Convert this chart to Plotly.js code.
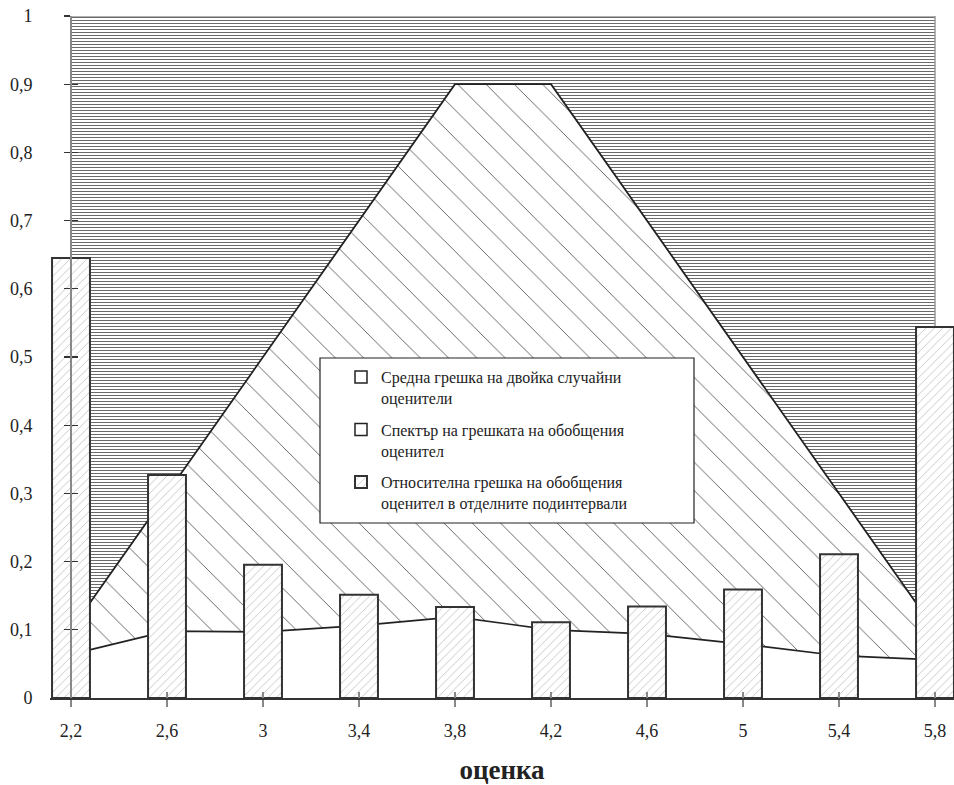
<!DOCTYPE html>
<html>
<head>
<meta charset="utf-8">
<script src="https://cdn.plot.ly/plotly-3.0.1.min.js"></script>
<style>html,body{margin:0;padding:0;background:#fff;}#chart{width:954px;height:785px;}</style>
</head>
<body>
<div id="chart"></div>
<script>
// ---- data ----
const categories = [2.2, 2.6, 3.0, 3.4, 3.8, 4.2, 4.6, 5.0, 5.4, 5.8];
const categoryLabels = ['2,2', '2,6', '3', '3,4', '3,8', '4,2', '4,6', '5', '5,4', '5,8'];
const meanErrorPair = [0.064, 0.098, 0.097, 0.106, 0.119, 0.100, 0.094, 0.079, 0.062, 0.056];
const errorSpectrum = [0.1, 0.3, 0.5, 0.7, 0.9, 0.9, 0.7, 0.5, 0.3, 0.1];
const relativeError = [0.645, 0.327, 0.1955, 0.1515, 0.1334, 0.111, 0.134, 0.159, 0.2107, 0.544];
const yTickVals = [0, 0.1, 0.2, 0.3, 0.4, 0.5, 0.6, 0.7, 0.8, 0.9, 1];
const yTickText = ['0', '0,1', '0,2', '0,3', '0,4', '0,5', '0,6', '0,7', '0,8', '0,9', '1'];
const seriesNames = [
  'Средна грешка на двойка случайни<br>оценители',
  'Спектър на грешката на обобщения<br>оценител',
  'Относителна грешка на обобщения<br>оценител в отделните подинтервали'
];
const xTitle = 'оценка';
// plot-area background (category span x full value range)
const bgX = [categories[0], categories[0], categories[categories.length - 1], categories[categories.length - 1]];
const bgY = [0, 1, 1, 0];

const serif = '"Liberation Serif", "Times New Roman", Times, serif';

const traces = [
  // legend proxies (draw nothing)
  {type: 'bar', x: [null], y: [null], name: seriesNames[0], legendgroup: 'a',
   marker: {color: 'white', line: {color: '#222', width: 1.5}}, hoverinfo: 'skip'},
  {type: 'bar', x: [null], y: [null], name: seriesNames[1], legendgroup: 'b',
   marker: {color: 'white', line: {color: '#222', width: 1.5}}, hoverinfo: 'skip'},
  // hatched plot-area background
  {type: 'scatter', mode: 'lines', x: bgX, y: bgY, fill: 'toself',
   fillcolor: 'white',
   fillpattern: {shape: '-', size: 3, solidity: 0.34, fgcolor: '#6a6a6a', bgcolor: 'white'},
   line: {color: '#999', width: 1.5}, showlegend: false, hoverinfo: 'skip'},
  // spectrum of error (trapezoid)
  {type: 'scatter', mode: 'lines', x: categories, y: errorSpectrum, fill: 'tozeroy',
   fillcolor: 'white',
   fillpattern: {shape: '\\', size: 20, solidity: 0.04, fgcolor: '#444', bgcolor: 'white'},
   line: {color: '#222', width: 1.8}, showlegend: false, hoverinfo: 'skip'},
  // mean error of a pair of random estimators
  {type: 'scatter', mode: 'lines', x: categories, y: meanErrorPair, fill: 'tozeroy',
   fillcolor: 'white', line: {color: '#222', width: 1.7}, showlegend: false, hoverinfo: 'skip'},
  // relative error bars (on the overlay axes so they sit above the filled areas)
  {type: 'bar', x: categories, y: relativeError, width: 0.158, name: seriesNames[2], legendgroup: 'c',
   xaxis: 'x2', yaxis: 'y2',
   marker: {color: 'white', line: {color: '#333', width: 2},
            pattern: {shape: '/', size: 6, solidity: 0.15, fgcolor: '#c4c4c4', bgcolor: 'white'}},
   hoverinfo: 'skip'}
];

const L = 50, R = 0, T = 16, B = 87, W = 954, H = 785;
const pw = W - L - R, ph = H - T - B;
const pxPerUnit = 240;
const xMin = categories[0] - (71 - L) / pxPerUnit;
const xMax = xMin + pw / pxPerUnit;
const yAxisPos = (71 - L) / pw;
const px = v => (v - L) / pw;
const py = v => (H - B - v) / ph;

const layout = {
  width: W, height: H,
  margin: {l: L, r: R, t: T, b: B, pad: 0},
  paper_bgcolor: 'white', plot_bgcolor: 'rgba(0,0,0,0)',
  barmode: 'overlay',
  showlegend: true,
  font: {family: serif, color: '#222', size: 16},
  xaxis: {
    range: [xMin, xMax], showgrid: false, zeroline: false,
    showline: true, linecolor: '#333', linewidth: 2,
    tickmode: 'array', tickvals: categories, ticktext: categoryLabels,
    ticks: 'outside', ticklen: 7, tickwidth: 2, tickcolor: '#888',
    tickfont: {family: serif, size: 18, color: '#222'},
    ticklabelstandoff: 8,
    title: {text: '<b>' + xTitle + '</b>', font: {family: serif, size: 27, color: '#222'}, standoff: 30},
    fixedrange: true
  },
  xaxis2: {
    overlaying: 'x', anchor: 'y2', side: 'bottom',
    range: [xMin, xMax], showgrid: false, zeroline: false, showline: false,
    tickmode: 'array', tickvals: categories, showticklabels: false,
    ticks: 'inside', ticklen: 6, tickwidth: 2, tickcolor: '#888', fixedrange: true
  },
  yaxis: {
    range: [0, 1], anchor: 'free', position: yAxisPos, side: 'left',
    showgrid: false, zeroline: false,
    showline: true, linecolor: '#888', linewidth: 2,
    tickmode: 'array', tickvals: yTickVals, ticktext: yTickText,
    ticks: 'outside', ticklen: 6, tickwidth: 1.2, tickcolor: '#333',
    tickfont: {family: serif, size: 18, color: '#222'},
    ticklabelstandoff: 28,
    fixedrange: true
  },
  yaxis2: {
    overlaying: 'y', anchor: 'free', position: yAxisPos, side: 'left',
    range: [0, 1], showgrid: false, zeroline: false,
    showline: true, linecolor: '#888', linewidth: 2, layer: 'above traces',
    tickmode: 'array', tickvals: yTickVals, showticklabels: false,
    ticks: 'inside', ticklen: 6, tickwidth: 1.2, tickcolor: '#333', fixedrange: true
  },
  shapes: [
    // legend frame
    {type: 'rect', xref: 'paper', yref: 'paper', layer: 'above',
     x0: px(320), x1: px(694), y0: py(523), y1: py(358),
     fillcolor: 'white', line: {color: '#222', width: 1.2}},
    // value-axis line drawn over the first bar, as in the original
    {type: 'line', xref: 'x2', yref: 'paper', layer: 'above',
     x0: categories[0], x1: categories[0], y0: 0, y1: 1,
     line: {color: '#888', width: 2}}
  ],
  legend: {
    x: px(341), y: py(360), xanchor: 'left', yanchor: 'top',
    bgcolor: 'rgba(0,0,0,0)', borderwidth: 0,
    traceorder: 'grouped', tracegroupgap: 8, valign: 'top',
    font: {family: serif, size: 16, color: '#222'}
  }
};

Plotly.newPlot('chart', traces, layout, {displayModeBar: false, staticPlot: true});
</script>
</body>
</html>
